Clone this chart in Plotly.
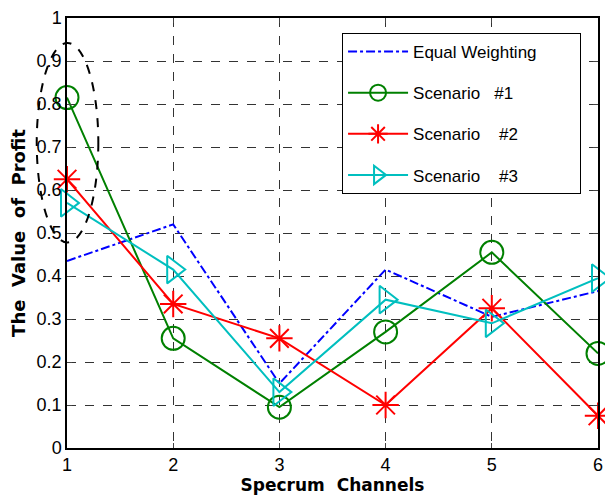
import plotly.graph_objects as go

channels = [1, 2, 3, 4, 5, 6]
equal_weighting = [0.435, 0.52, 0.15, 0.415, 0.305, 0.365]
scenario1 = [0.815, 0.255, 0.095, 0.27, 0.455, 0.22]
scenario2 = [0.625, 0.335, 0.255, 0.10, 0.325, 0.075]
scenario3 = [0.57, 0.415, 0.13, 0.345, 0.29, 0.395]
y_ticks = [0, 0.1, 0.2, 0.3, 0.4, 0.5, 0.6, 0.7, 0.8, 0.9, 1]
y_tick_labels = ["0", "0.1", "0.2", "0.3", "0.4", "0.5", "0.6", "0.7", "0.8", "0.9", "1"]

FONT = "Liberation Sans, Arial, sans-serif"
TITLE_FONT = "DejaVu Sans, Verdana, sans-serif"
PAD = "\u00a0" * 8

fig = go.Figure()
fig.add_trace(go.Scatter(x=channels, y=equal_weighting, mode="lines", name="Equal Weighting" + PAD,
                         line=dict(color="#0000ff", width=2, dash="dashdot"),
                         legendgroup="a", cliponaxis=False))
fig.add_trace(go.Scatter(x=channels, y=scenario1, mode="lines+markers", name="Scenario   #1",
                         line=dict(color="#008000", width=2),
                         marker=dict(symbol="circle-open", size=23, color="#008000", line=dict(width=2)),
                         legendgroup="b", cliponaxis=False))
fig.add_trace(go.Scatter(x=channels, y=scenario2, mode="lines+markers", name="Scenario    #2",
                         line=dict(color="#ff0000", width=2),
                         marker=dict(symbol="asterisk-open", size=22, color="#ff0000", line=dict(width=2, color="#ff0000")),
                         legendgroup="c", cliponaxis=False))
fig.add_trace(go.Scatter(x=channels, y=scenario3, mode="lines+markers", name="Scenario    #3",
                         line=dict(color="#00bfbf", width=2),
                         marker=dict(symbol="triangle-right-open", size=24, color="#00bfbf", line=dict(width=2)),
                         legendgroup="d", cliponaxis=False))

# dashed ellipse highlighting channel 1
fig.add_shape(type="circle", xref="paper", yref="y", x0=-0.057, x1=0.059, y0=0.478, y1=0.942,
              line=dict(color="black", width=2, dash="dash"), layer="above")

fig.update_layout(
    width=605, height=488,
    margin=dict(l=59, r=15, t=10, b=48),
    paper_bgcolor="white", plot_bgcolor="white",
    font=dict(family=FONT, size=18, color="black"),
    showlegend=True,
    legend=dict(x=0.518, y=0.965, xanchor="left", yanchor="top",
                bgcolor="white", bordercolor="black", borderwidth=1,
                font=dict(size=17, family=FONT), tracegroupgap=16,
                itemwidth=60),
    xaxis=dict(range=[1, 6], tickvals=channels, ticks="inside", ticklen=5,
               showline=True, linecolor="black", linewidth=1.5, mirror="ticks",
               showgrid=True, gridcolor="#333", griddash="dash", gridwidth=1,
               zeroline=False, automargin=False,
               title=dict(text="<b>Specrum  Channels</b>", font=dict(size=17, family=TITLE_FONT), standoff=1)),
    yaxis=dict(range=[0, 1], tickvals=y_ticks, ticktext=y_tick_labels, ticks="inside", ticklen=5,
               showline=True, linecolor="black", linewidth=1.5, mirror="ticks",
               showgrid=True, gridcolor="#333", griddash="dash", gridwidth=1,
               zeroline=False, automargin=False,
               title=dict(text="<b>The  Value  of  Profit</b>", font=dict(size=18, family=TITLE_FONT), standoff=6)),
)

fig.write_html("out.html")
